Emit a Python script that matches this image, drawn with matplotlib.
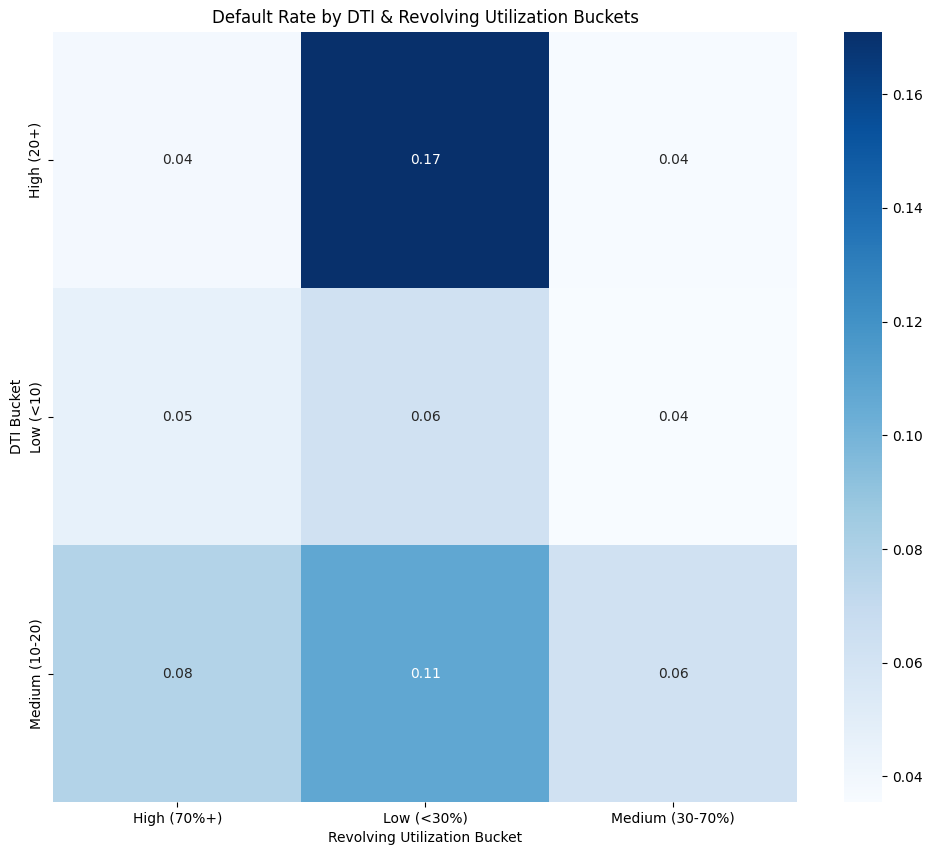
import matplotlib

matplotlib.use("Agg")
import matplotlib.pyplot as plt
import numpy as np
import seaborn as sns

DTI_LABELS = ["High (20+)", "Low (<10)", "Medium (10-20)"]
UTIL_LABELS = ["High (70%+)", "Low (<30%)", "Medium (30-70%)"]
RATE_HIGH_DTI = [0.0385, 0.171, 0.0365]
RATE_LOW_DTI = [0.0465, 0.0625, 0.0358]
RATE_MED_DTI = [0.0775, 0.1075, 0.0625]

rates = np.array([RATE_HIGH_DTI, RATE_LOW_DTI, RATE_MED_DTI])

fig, ax = plt.subplots(figsize=(9.32, 8.55), dpi=100)
sns.heatmap(
    rates,
    annot=True,
    fmt=".2f",
    cmap="Blues",
    vmin=0.0355,
    vmax=0.171,
    xticklabels=UTIL_LABELS,
    yticklabels=DTI_LABELS,
    ax=ax,
)
ax.set_title("Default Rate by DTI & Revolving Utilization Buckets")
ax.set_xlabel("Revolving Utilization Bucket")
ax.set_ylabel("DTI Bucket")

ax.set_position([53.2 / 932, 1 - 802 / 855, 744 / 932, 770.3 / 855])
cax = fig.axes[1]
cax.set_box_aspect(770.3 / 38)
cax.set_position([844.2 / 932, 1 - 802 / 855, 38 / 932, 770.3 / 855])

fig.savefig("out.png", dpi=100)
plt.close(fig)
